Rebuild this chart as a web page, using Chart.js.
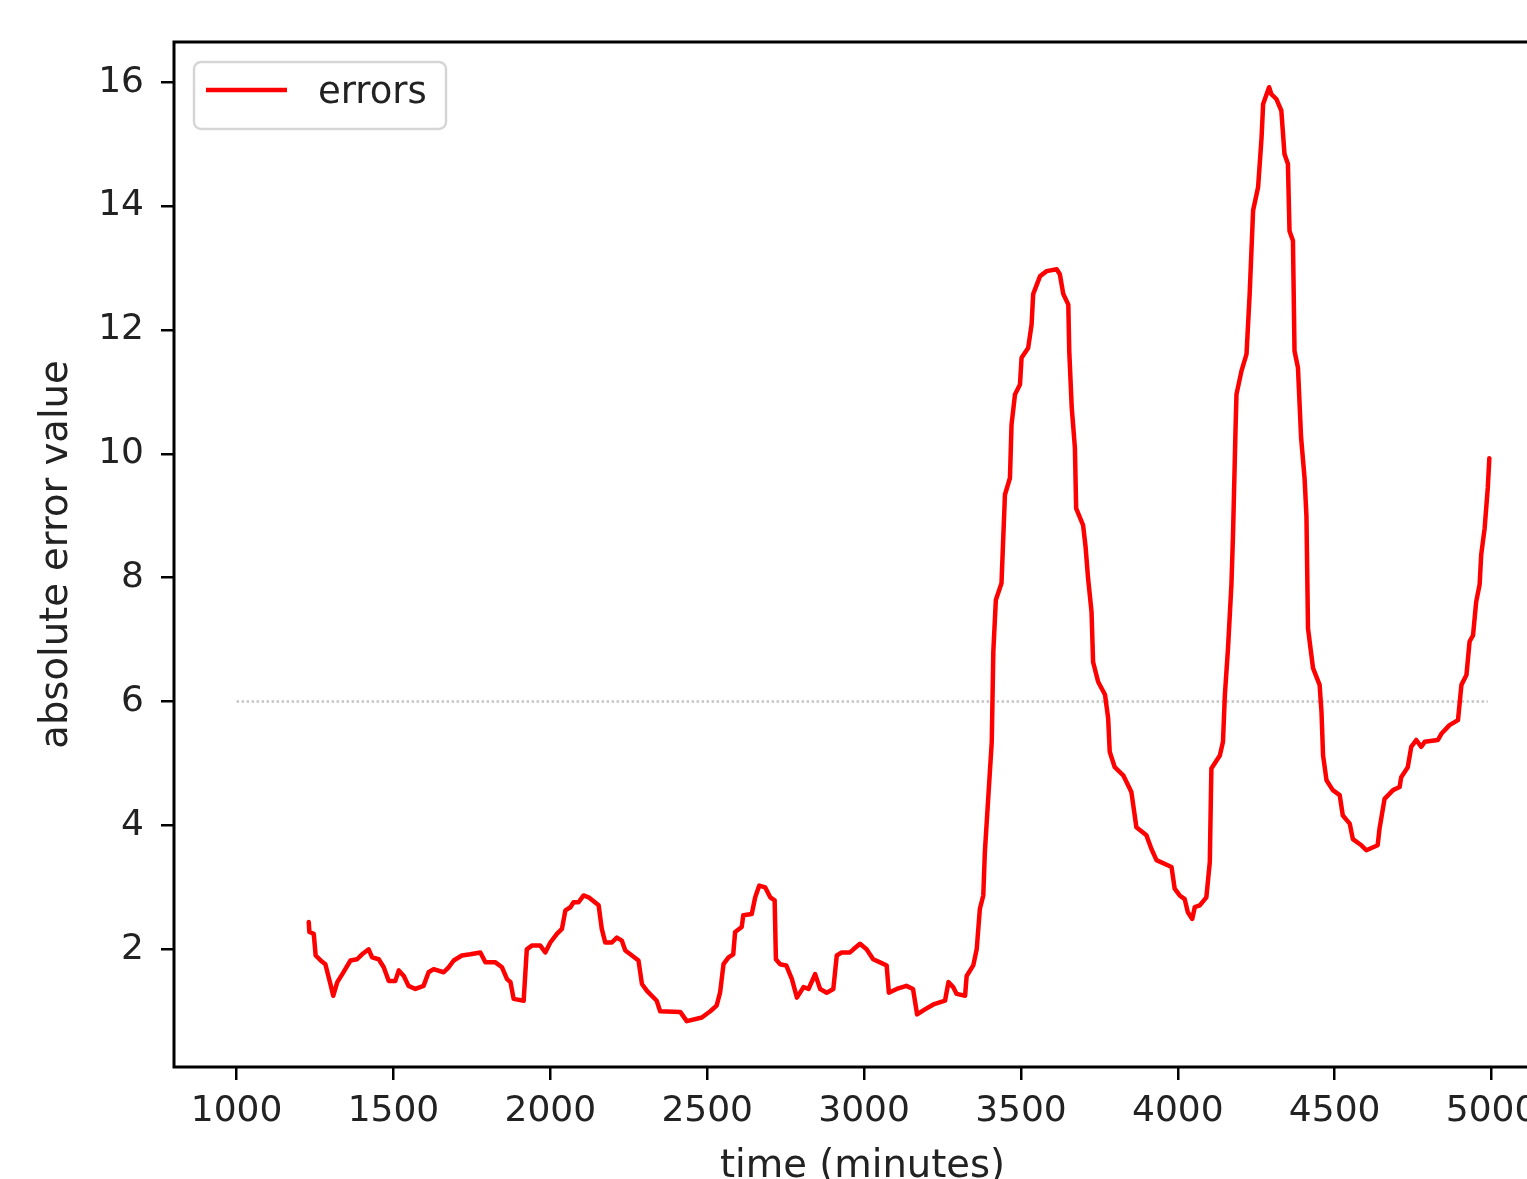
<!DOCTYPE html>
<html>
<head>
<meta charset="utf-8">
<title>absolute error</title>
<script src="https://cdn.jsdelivr.net/npm/chart.js@4.4.0/dist/chart.umd.min.js"></script>
<style>
  html, body { margin: 0; padding: 0; background: #fff; overflow: hidden; }
  #wrap { position: absolute; left: 0; top: 0; }
</style>
</head>
<body>
<div id="wrap"><canvas id="err-chart" width="1600" height="1200"></canvas></div>
<script>
// time (minutes) and absolute error
const timeMinutes = [
  1230, 1232, 1246, 1252, 1268, 1283, 1299, 1308, 1321, 1337, 1363, 1384, 1400, 1421, 1432, 1453,
  1469, 1485, 1506, 1517, 1533, 1548, 1570, 1596, 1612, 1628, 1660, 1676, 1692, 1718, 1745, 1777,
  1793, 1825, 1846, 1862, 1873, 1883, 1915, 1925, 1941, 1968, 1984, 2000, 2021, 2037, 2048, 2064,
  2074, 2090, 2106, 2122, 2154, 2164, 2175, 2196, 2212, 2228, 2239, 2255, 2281, 2292, 2308, 2339,
  2350, 2414, 2435, 2483, 2510, 2530, 2541, 2552, 2568, 2583, 2589, 2610, 2615, 2642, 2653, 2666,
  2685, 2701, 2715, 2719, 2732, 2752, 2770, 2786, 2807, 2823, 2844, 2860, 2881, 2902, 2913, 2929,
  2955, 2966, 2987, 3008, 3029, 3051, 3072, 3079, 3104, 3135, 3156, 3169, 3194, 3221, 3258, 3269,
  3284, 3295, 3322, 3327, 3348, 3359, 3369, 3380, 3385, 3395, 3407, 3412, 3420, 3438, 3449, 3465,
  3470, 3481, 3497, 3502, 3523, 3534, 3539, 3561, 3582, 3614, 3624, 3635, 3651, 3654, 3662, 3672,
  3676, 3698, 3706, 3714, 3725, 3730, 3746, 3768, 3778, 3783, 3799, 3826, 3852, 3868, 3900, 3916,
  3932, 3980, 3990, 4006, 4022, 4032, 4046, 4054, 4070, 4091, 4102, 4107, 4134, 4144, 4150, 4160,
  4171, 4176, 4184, 4187, 4203, 4219, 4229, 4240, 4256, 4267, 4272, 4291, 4298, 4314, 4330, 4340,
  4351, 4356, 4367, 4372, 4383, 4393, 4404, 4410, 4415, 4431, 4452, 4458, 4463, 4474, 4494, 4516,
  4526, 4548, 4558, 4585, 4601, 4637, 4643, 4659, 4686, 4707, 4712, 4733, 4744, 4760, 4776, 4787,
  4829, 4840, 4866, 4893, 4904, 4920, 4930, 4941, 4951, 4962, 4967, 4978, 4988, 4993
];
const errorValues = [
  2.44, 2.28, 2.25, 1.90, 1.82, 1.76, 1.44, 1.25, 1.47, 1.60, 1.82, 1.84, 1.92, 2.00, 1.87, 1.84,
  1.71, 1.49, 1.49, 1.66, 1.57, 1.41, 1.36, 1.41, 1.63, 1.68, 1.63, 1.71, 1.82, 1.90, 1.92, 1.95,
  1.79, 1.79, 1.71, 1.52, 1.47, 1.20, 1.17, 2.00, 2.06, 2.06, 1.95, 2.11, 2.25, 2.33, 2.63, 2.68,
  2.76, 2.76, 2.87, 2.84, 2.71, 2.33, 2.11, 2.11, 2.19, 2.14, 1.98, 1.92, 1.82, 1.44, 1.33, 1.17,
  1.00, 0.99, 0.84, 0.90, 1.00, 1.09, 1.30, 1.76, 1.87, 1.92, 2.28, 2.36, 2.55, 2.57, 2.84, 3.03,
  3.00, 2.84, 2.79, 1.84, 1.76, 1.74, 1.52, 1.22, 1.39, 1.36, 1.60, 1.36, 1.30, 1.36, 1.90, 1.95,
  1.95, 2.00, 2.09, 2.00, 1.84, 1.79, 1.74, 1.30, 1.36, 1.41, 1.36, 0.95, 1.03, 1.11, 1.17, 1.47,
  1.39, 1.28, 1.25, 1.57, 1.74, 2.00, 2.65, 2.87, 3.57, 4.38, 5.35, 6.81, 7.64, 7.91, 9.34, 9.61,
  10.47, 10.96, 11.12, 11.55, 11.71, 12.09, 12.58, 12.87, 12.95, 12.98, 12.90, 12.58, 12.41, 11.66, 10.74, 10.10,
  9.12, 8.85, 8.50, 7.99, 7.45, 6.64, 6.32, 6.11, 5.73, 5.19, 4.94, 4.81, 4.54, 3.97, 3.84, 3.62,
  3.44, 3.33, 2.98, 2.87, 2.81, 2.60, 2.49, 2.68, 2.71, 2.84, 3.41, 4.92, 5.13, 5.35, 6.11, 6.86,
  7.90, 8.70, 10.40, 10.96, 11.34, 11.61, 12.58, 13.93, 14.31, 15.11, 15.65, 15.92, 15.81, 15.73, 15.54, 14.84,
  14.68, 13.60, 13.44, 11.66, 11.39, 10.26, 9.61, 9.00, 7.18, 6.54, 6.27, 5.83, 5.13, 4.73, 4.57, 4.49,
  4.16, 4.03, 3.78, 3.68, 3.60, 3.68, 3.95, 4.43, 4.57, 4.62, 4.78, 4.94, 5.27, 5.38, 5.27, 5.35,
  5.38, 5.48, 5.62, 5.70, 6.27, 6.43, 6.97, 7.07, 7.61, 7.89, 8.37, 8.80, 9.45, 9.93
];
// dotted threshold line
const thresholdX = [1000, 4988];
const thresholdY = [6, 6];

const xTickValues = [1000, 1500, 2000, 2500, 3000, 3500, 4000, 4500, 5000];
const yTickValues = [2, 4, 6, 8, 10, 12, 14, 16];

const FONT = 'DejaVu Sans';
const INK  = '#222';

// top + right spine of the axes box
const frameBox = {
  id: 'frameBox',
  afterDatasetsDraw(chart) {
    const { ctx, chartArea: a } = chart;
    ctx.save();
    ctx.strokeStyle = '#000';
    ctx.lineWidth = 3;
    ctx.strokeRect(a.left, a.top, a.right - a.left, a.bottom - a.top);
    ctx.restore();
  }
};

// matplotlib-style legend box in the upper left
const boxLegend = {
  id: 'boxLegend',
  afterDraw(chart) {
    const { ctx, chartArea: a } = chart;
    const ds = chart.data.datasets[0];
    const x = a.left + 20, y = a.top + 20, w = 252, h = 67, r = 7;
    ctx.save();
    ctx.fillStyle = 'rgba(255,255,255,0.8)';
    ctx.strokeStyle = '#d6d6d6';
    ctx.lineWidth = 2.5;
    ctx.beginPath();
    ctx.roundRect(x, y, w, h, r);
    ctx.fill();
    ctx.stroke();
    ctx.strokeStyle = ds.borderColor;
    ctx.lineWidth = ds.borderWidth;
    ctx.beginPath();
    ctx.moveTo(x + 12, y + 28);
    ctx.lineTo(x + 93, y + 28);
    ctx.stroke();
    ctx.fillStyle = INK;
    ctx.font = `37px "${FONT}"`;
    ctx.textBaseline = 'alphabetic';
    ctx.fillText(ds.label, x + 124, y + 41);
    ctx.restore();
  }
};

const tickGrid = { display: true, drawOnChartArea: false, drawTicks: true, tickLength: 13, color: '#000', lineWidth: 2.5 };

new Chart(document.getElementById('err-chart'), {
  type: 'line',
  data: {
    datasets: [
      { label: 'errors', data: timeMinutes.map((t, i) => ({ x: t, y: errorValues[i] })),
        borderColor: '#ff0000', borderWidth: 4.5, pointRadius: 0, tension: 0, fill: false,
        borderJoinStyle: 'round', borderCapStyle: 'round' },
      { label: 'threshold', data: thresholdX.map((t, i) => ({ x: t, y: thresholdY[i] })),
        borderColor: '#c4c4c4', borderWidth: 2.5, borderDash: [2.5, 2.5], pointRadius: 0, fill: false },
    ],
  },
  options: {
    responsive: false, animation: false, devicePixelRatio: 1,
    layout: { padding: { top: 42, right: 49, left: 0, bottom: 10 } },
    plugins: { legend: { display: false }, tooltip: { enabled: false } },
    scales: {
      x: {
        type: 'linear', min: 800.5, max: 5189.5,
        grid: tickGrid, border: { display: false },
        afterBuildTicks: s => { s.ticks = xTickValues.map(v => ({ value: v })); },
        afterFit: s => { s.height = 123; },
        ticks: { color: INK, font: { family: FONT, size: 36 }, padding: 10, maxRotation: 0, autoSkip: false,
                 callback: v => String(v) },
        title: { display: true, text: 'time (minutes)', color: INK, font: { family: FONT, size: 38.5 }, padding: 0 },
      },
      y: {
        type: 'linear', min: 0.1, max: 16.65,
        grid: tickGrid, border: { display: false },
        afterBuildTicks: s => { s.ticks = yTickValues.map(v => ({ value: v })); },
        afterFit: s => { s.width = 174; },
        ticks: { color: INK, font: { family: FONT, size: 36 }, padding: 17, callback: v => String(v) },
        title: { display: true, text: 'absolute error value', color: INK, font: { family: FONT, size: 38.5 }, padding: { top: 34 } },
      },
    },
  },
  plugins: [frameBox, boxLegend],
});
</script>
</body>
</html>
